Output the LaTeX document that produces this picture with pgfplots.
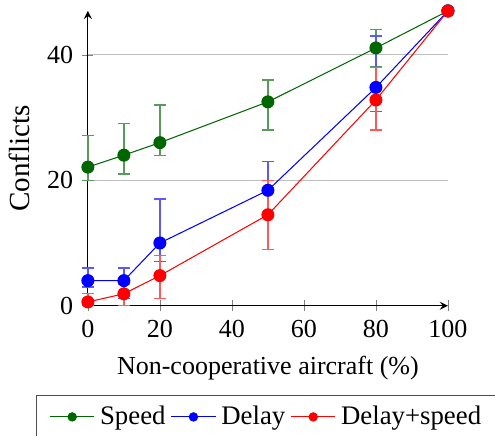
\documentclass[border=0pt]{standalone}
\usepackage{fontspec}
\setmainfont{Liberation Serif}
\usepackage{pgfplots}
\usepackage{pgfplotstable}
\pgfplotsset{compat=1.18}

\definecolor{sgreen}{rgb}{0,0.4,0}

% x y error+ error-
\pgfplotstableread{
x    y     ep   em
0    22.1  5.0  2.1
10   24.0  5.0  3.0
20   26.0  6.0  2.0
50   32.5  3.5  4.5
80   41.1  2.9  3.0
100  47.0  0    0
}\speed
\pgfplotstableread{
x    y     ep   em
0    4.0   2.0  1.0
10   4.0   2.0  2.9
20   10.0  7.0  3.0
50   18.4  4.6  4.0
80   34.8  8.2  3.8
100  47.0  0    0
}\delay
\pgfplotstableread{
x    y     ep   em
0    0.6   1.4  0.6
10   1.9   1.5  1.85
20   4.8   3.2  3.7
50   14.5  5.5  5.5
80   32.8  5.2  4.8
100  47.0  0    0
}\delayspeed

\begin{document}
\begin{tikzpicture}
\begin{axis}[
  scale only axis,
  width=138.5pt, height=113.4pt,
  xmin=0, xmax=100, ymin=0, ymax=47,
  axis lines=left,
  xtick={0,20,40,60,80,100},
  ytick={0,20,40},
  ymajorgrids,
  grid style={lightgray},
  major tick style={gray},
  xlabel={Non-cooperative aircraft (\%)},
  ylabel={Conflicts},
  ylabel style={font=\fontsize{11.2}{13}\selectfont},
  /pgf/number format/assume math mode=true,
  clip=false,
  legend columns=-1,
  legend image post style={mark size=1.6pt},
  legend style={at={(0.5,-0.302)}, anchor=north, draw=black!70,
    inner xsep=5pt, font=\fontsize{10.3}{12}\selectfont},
]
\addplot[sgreen, mark=*, mark size=2.3pt, mark options={fill=sgreen, solid},
  error bars/.cd, y dir=both, y explicit,
  error bar style={line width=0.5pt, sgreen!65},
  error mark options={sgreen!65, line width=0.5pt, rotate=90, mark size=2.4pt}]
  table[x=x, y=y, y error plus=ep, y error minus=em] {\speed};
\addplot[blue, mark=*, mark size=2.3pt, mark options={fill=blue, solid},
  error bars/.cd, y dir=both, y explicit,
  error bar style={line width=0.5pt, blue!65},
  error mark options={blue!65, line width=0.5pt, rotate=90, mark size=2.4pt}]
  table[x=x, y=y, y error plus=ep, y error minus=em] {\delay};
\addplot[red, mark=*, mark size=2.3pt, mark options={fill=red, solid},
  error bars/.cd, y dir=both, y explicit,
  error bar style={line width=0.5pt, red!65},
  error mark options={red!65, line width=0.5pt, rotate=90, mark size=2.4pt}]
  table[x=x, y=y, y error plus=ep, y error minus=em] {\delayspeed};
\legend{Speed, Delay, Delay+speed}
\coordinate (O) at (axis cs:0,0);
\coordinate (T) at (axis cs:100,47);
\end{axis}
\pgfresetboundingbox
\path[use as bounding box] ([xshift=-33.8pt, yshift=-50pt]O) rectangle ([xshift=18.1pt, yshift=4.2pt]T);
\end{tikzpicture}
\end{document}
